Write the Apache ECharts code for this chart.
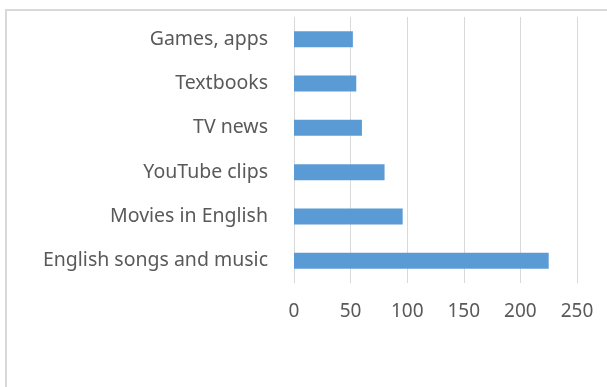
<!DOCTYPE html>
<html>
<head>
<meta charset="utf-8">
<script src="https://cdn.jsdelivr.net/npm/echarts@6/dist/echarts.min.js"></script>
<style>
  html, body { margin: 0; padding: 0; background: #fff; }
  #chart { width: 607px; height: 387px; }
</style>
</head>
<body>
<div id="chart"></div>
<script>
// Sources of English exposure (top to bottom as shown)
const categories = ['Games, apps', 'Textbooks', 'TV news', 'YouTube clips', 'Movies in English', 'English songs and music'];
const counts = [52, 55, 60, 80, 96, 225];
const xTicks = [0, 50, 100, 150, 200, 250];

const chart = echarts.init(document.getElementById('chart'));

chart.setOption({
  animation: false,
  backgroundColor: '#fff',
  textStyle: { fontFamily: 'Noto Sans' },
  // chart frame, cropped on the right and bottom like the source image
  graphic: [{
    type: 'rect',
    shape: { x: 6, y: 10, width: 800, height: 600 },
    style: { fill: 'none', stroke: '#d9d9d9', lineWidth: 2 },
    silent: true,
  }],
  grid: { left: 294, right: 30, top: 17, bottom: 104 },
  xAxis: {
    type: 'value',
    min: xTicks[0],
    max: xTicks[xTicks.length - 1],
    interval: 50,
    axisLine: { show: false },
    axisTick: { show: false },
    splitLine: { show: true, lineStyle: { color: '#d9d9d9', width: 1 } },
    axisLabel: { color: '#595959', fontSize: 19, margin: 19 },
  },
  yAxis: {
    type: 'category',
    data: categories,
    inverse: true,
    axisLine: { show: false },
    axisTick: { show: false },
    splitLine: { show: false },
    axisLabel: { color: '#595959', fontSize: 19.5, margin: 26 },
  },
  series: [{
    type: 'bar',
    data: counts,
    barWidth: 16,
    itemStyle: { color: '#5b9bd5' },
  }],
});
</script>
</body>
</html>
